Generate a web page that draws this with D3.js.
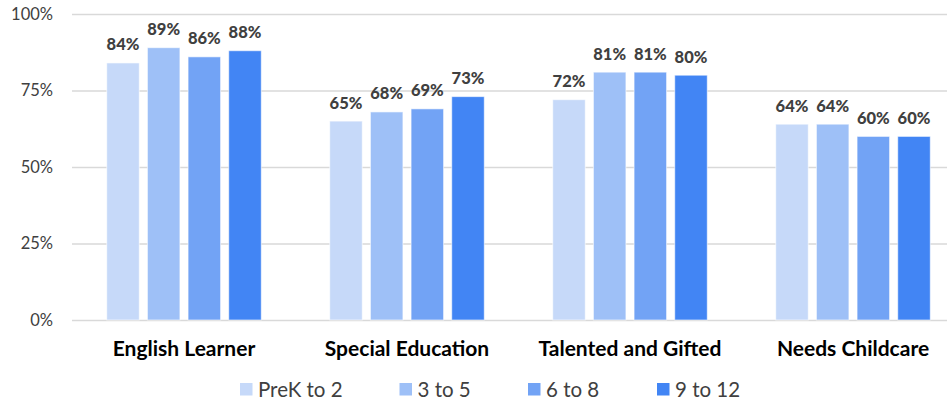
<!DOCTYPE html>
<html>
<head>
<meta charset="utf-8">
<script src="https://cdn.jsdelivr.net/npm/d3@7"></script>
<style>
  html, body { margin: 0; padding: 0; background: #fff; }
  svg { display: block; }
</style>
</head>
<body>
<svg id="chart" width="949" height="401"></svg>
<script>
// Share of students by group and grade band
const categories = ["English Learner", "Special Education", "Talented and Gifted", "Needs Childcare"];
const seriesNames = ["PreK to 2", "3 to 5", "6 to 8", "9 to 12"];
const prek2 = [84, 65, 72, 64];
const g3to5 = [89, 68, 81, 64];
const g6to8 = [86, 69, 81, 60];
const g9to12 = [88, 73, 80, 60];
const yTicks = [0, 25, 50, 75, 100];
const colors = ["#C6D9F9", "#9EC0F7", "#72A3F5", "#4285F4"];

const seriesValues = [prek2, g3to5, g6to8, g9to12];
const rows = categories.map((c, i) => ({
  category: c,
  values: seriesNames.map((s, j) => ({ series: s, idx: j, value: seriesValues[j][i] }))
}));

const svg = d3.select("#chart");
const font = "Lato, 'Open Sans', sans-serif";

const gridLeft = 72, gridRight = 947;
const y = d3.scaleLinear().domain([0, 100]).range([320, 14]);

const x0 = d3.scaleBand()
  .domain(categories)
  .range([72.5, 964.5])
  .paddingInner(0.307)
  .paddingOuter(0.1535);

const x1 = d3.scaleBand()
  .domain(seriesNames)
  .range([0, x0.bandwidth()])
  .paddingInner(0.2)
  .paddingOuter(0);

// Horizontal gridlines and value axis labels
const yAxis = d3.axisLeft(y)
  .tickValues(yTicks)
  .tickFormat(d => d + "%")
  .tickSize(-(gridRight - gridLeft))
  .tickPadding(19);

const gy = svg.append("g")
  .attr("transform", `translate(${gridLeft},0)`)
  .call(yAxis);
gy.select(".domain").remove();
gy.selectAll(".tick line")
  .attr("stroke", "#D9D9D9")
  .attr("stroke-width", 1.5);
gy.selectAll(".tick text")
  .attr("fill", "#404040")
  .style("font-family", font)
  .style("font-size", "16.5px");

// Bars
const groups = svg.append("g").selectAll("g")
  .data(rows)
  .join("g")
  .attr("transform", d => `translate(${x0(d.category)},0)`);

groups.selectAll("rect")
  .data(d => d.values)
  .join("rect")
  .attr("x", d => x1(d.series))
  .attr("y", d => y(d.value))
  .attr("width", x1.bandwidth())
  .attr("height", d => y(0) - y(d.value))
  .attr("fill", d => colors[d.idx])
  .attr("stroke", "#ffffff")
  .attr("stroke-opacity", 0.6)
  .attr("stroke-width", 1);

// Value labels
groups.selectAll("text")
  .data(d => d.values)
  .join("text")
  .attr("x", d => x1(d.series) + x1.bandwidth() / 2)
  .attr("y", d => y(d.value) - 12.5)
  .attr("text-anchor", "middle")
  .attr("fill", "#404040")
  .style("font-family", font)
  .style("font-weight", "900")
  .style("font-size", "16.5px")
  .text(d => d.value + "%");

// Category axis labels
const xAxis = d3.axisBottom(x0).tickSize(0).tickPadding(0);
const gx = svg.append("g")
  .attr("transform", "translate(0,340)")
  .call(xAxis);
gx.select(".domain").remove();
gx.selectAll(".tick text")
  .attr("dy", "16px")
  .attr("fill", "#000")
  .style("font-family", font)
  .style("font-weight", "bold")
  .style("font-size", "21px");

// Legend
const legendX = [240, 399.5, 528, 657];
const legend = svg.append("g").selectAll("g")
  .data(seriesNames)
  .join("g")
  .attr("transform", (d, i) => `translate(${legendX[i]},383)`);
legend.append("rect")
  .attr("width", 12.5)
  .attr("height", 12.5)
  .attr("fill", (d, i) => colors[i]);
legend.append("text")
  .attr("x", 18)
  .attr("y", 13.5)
  .attr("fill", "#404040")
  .style("font-family", font)
  .style("font-size", "20.5px")
  .text(d => d);
</script>
</body>
</html>
